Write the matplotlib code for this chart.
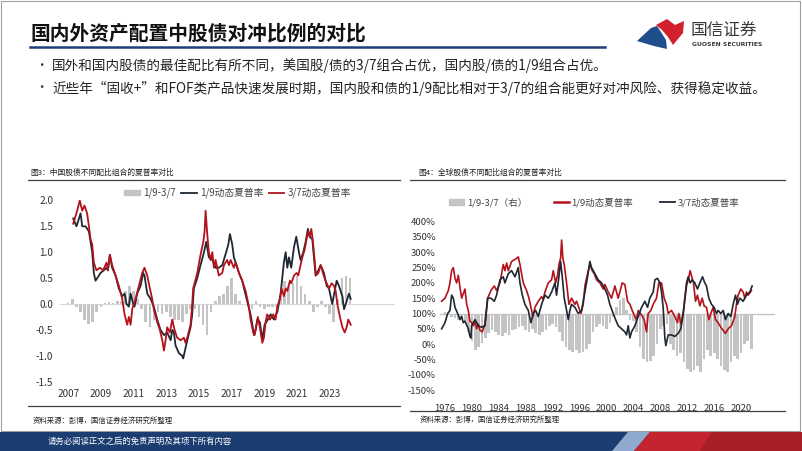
import matplotlib
matplotlib.use('Agg')
import matplotlib.pyplot as plt
import numpy as np
from matplotlib.patches import Rectangle, Polygon, Patch
from matplotlib.lines import Line2D

plt.rcParams['font.family'] = ['Noto Sans CJK SC', 'DejaVu Sans']

W, H = 802, 451

# ---------------- 图3 中国股债 ----------------
cn_x_19 = [2007.31, 2007.51, 2007.76, 2007.86, 2008.06, 2008.27, 2008.37, 2008.47, 2008.57, 2008.67,
           2008.78, 2008.98, 2009.18, 2009.35, 2009.43, 2009.55, 2009.69, 2009.90, 2010.10, 2010.31,
           2010.45, 2010.57, 2010.71, 2010.82, 2010.98, 2011.06, 2011.22, 2011.43, 2011.59, 2011.67,
           2011.84, 2012.04, 2012.24, 2012.45, 2012.65, 2012.86, 2013.06, 2013.27, 2013.37, 2013.47,
           2013.57, 2013.78, 2013.98, 2014.04, 2014.18, 2014.29, 2014.49, 2014.59, 2014.69, 2014.90,
           2015.10, 2015.31, 2015.45, 2015.61, 2015.82, 2016.02, 2016.22, 2016.43, 2016.57, 2016.67,
           2016.80, 2016.90, 2017.04, 2017.14, 2017.31, 2017.45, 2017.65, 2017.76, 2017.96, 2018.16,
           2018.27, 2018.37, 2018.47, 2018.57, 2018.73, 2018.82, 2018.88, 2019.02, 2019.22, 2019.39,
           2019.59, 2019.80, 2020.00, 2020.10, 2020.20, 2020.31, 2020.41, 2020.51, 2020.65, 2020.82,
           2020.96, 2021.12, 2021.22, 2021.39, 2021.53, 2021.67, 2021.78, 2021.94, 2022.04, 2022.14,
           2022.31, 2022.45, 2022.65, 2022.82, 2022.96, 2023.16, 2023.31, 2023.43, 2023.57, 2023.78,
           2023.88, 2024.04, 2024.18, 2024.29]
cn_y_19 = [1.65, 1.50, 1.75, 1.50, 1.50, 1.40, 1.20, 1.00, 0.60, 0.45,
           0.50, 0.60, 0.65, 0.70, 0.65, 0.95, 0.70, 0.55, 0.30, 0.15,
           0.20, 0.00, -0.05, 0.20, 0.00, -0.05, 0.20, 0.35, 0.60, 0.55,
           0.20, 0.10, -0.05, -0.30, -0.50, -0.60, -0.55, -0.70, -0.50, -0.55,
           -0.80, -0.95, -1.00, -1.05, -0.85, -0.70, -0.45, -0.20, 0.30, 0.50,
           0.75, 1.00, 1.20, 0.90, 0.85, 0.70, 0.70, 0.75, 0.90, 1.00,
           1.15, 1.35, 1.15, 0.90, 0.75, 0.60, 0.45, 0.30, 0.05, -0.20,
           -0.40, -0.60, -0.50, -0.30, -0.35, -0.55, -0.70, -0.40, -0.30, -0.20,
           -0.30, -0.15, 0.20, 0.50, 0.80, 1.00, 0.70, 0.90, 0.70, 1.10,
           1.30, 1.00, 0.85, 1.00, 1.20, 1.45, 1.30, 1.25, 0.90, 0.55,
           0.65, 0.75, 0.60, 0.35, 0.30, 0.00, 0.25, 0.45, 0.35, 0.15,
           -0.10, 0.05, 0.20, 0.10]

cn_x_37 = [2007.31, 2007.55, 2007.71, 2007.86, 2008.00, 2008.16, 2008.27, 2008.37, 2008.47, 2008.57,
           2008.73, 2008.94, 2009.14, 2009.35, 2009.43, 2009.55, 2009.69, 2009.90, 2010.10, 2010.31,
           2010.45, 2010.61, 2010.71, 2010.82, 2010.92, 2011.12, 2011.33, 2011.53, 2011.67, 2011.84,
           2012.00, 2012.14, 2012.24, 2012.45, 2012.61, 2012.76, 2012.86, 2012.96, 2013.06, 2013.22,
           2013.37, 2013.51, 2013.67, 2013.88, 2014.08, 2014.18, 2014.33, 2014.49, 2014.59, 2014.65,
           2014.90, 2015.10, 2015.27, 2015.35, 2015.41, 2015.51, 2015.61, 2015.71, 2015.82, 2015.92,
           2016.02, 2016.22, 2016.43, 2016.53, 2016.73, 2016.84, 2016.94, 2017.14, 2017.24, 2017.45,
           2017.65, 2017.86, 2018.06, 2018.16, 2018.33, 2018.41, 2018.53, 2018.61, 2018.73, 2018.88,
           2018.98, 2019.08, 2019.18, 2019.35, 2019.55, 2019.69, 2019.80, 2019.96, 2020.06, 2020.20,
           2020.31, 2020.41, 2020.57, 2020.65, 2020.82, 2020.98, 2021.08, 2021.22, 2021.33, 2021.47,
           2021.59, 2021.67, 2021.78, 2021.88, 2021.98, 2022.08, 2022.16, 2022.31, 2022.45, 2022.59,
           2022.69, 2022.82, 2022.96, 2023.12, 2023.27, 2023.37, 2023.47, 2023.63, 2023.78, 2023.92,
           2024.04, 2024.14, 2024.29]
cn_y_37 = [1.55, 1.80, 2.00, 1.80, 1.90, 1.75, 1.50, 1.25, 1.15, 0.80,
           0.65, 0.70, 0.65, 0.80, 0.65, 0.95, 0.75, 0.55, 0.35, 0.10,
           -0.20, -0.40, -0.25, -0.40, -0.10, 0.10, 0.35, 0.60, 0.70, 0.55,
           0.30, 0.10, -0.10, -0.35, -0.50, -0.70, -0.90, -0.70, -0.45, -0.55,
           -0.30, -0.50, -0.65, -0.70, -0.65, -0.75, -0.60, -0.40, 0.00, 0.30,
           0.60, 0.95, 1.20, 1.40, 1.80, 1.35, 1.00, 0.85, 1.00, 0.70,
           0.85, 0.55, 0.60, 0.75, 0.85, 0.75, 0.85, 0.70, 0.80, 0.60,
           0.45, 0.25, -0.05, -0.30, -0.55, -0.60, -0.40, -0.25, -0.45, -0.75,
           -0.65, -0.35, -0.20, -0.30, -0.20, -0.30, -0.05, 0.10, 0.30, 0.15,
           0.30, 0.25, 0.45, 0.40, 0.55, 0.60, 0.55, 0.75, 0.90, 1.05,
           1.25, 1.40, 1.30, 1.45, 1.20, 0.85, 0.55, 0.60, 0.75, 0.60,
           0.50, 0.40, 0.30, 0.40, 0.35, 0.25, 0.00, -0.25, -0.45, -0.55,
           -0.45, -0.30, -0.40]

cn_bar_x = np.arange(2007.0, 2024.3, 0.25)
cn_bar = [0.02, 0.10, -0.05, -0.15,
          -0.30, -0.38, -0.35, -0.15,
          -0.05, 0.02, 0.03, 0.02,
          0.05, 0.05, 0.25, 0.35,
          0.25, 0.10, -0.10, -0.35,
          -0.45, -0.30, -0.15, -0.20,
          -0.15, -0.25, -0.30, -0.30,
          -0.35, -0.20, -0.10, -0.10,
          -0.25, -0.40, -0.60, -0.15,
          0.05, 0.15, 0.20, 0.35,
          0.50, 0.20, 0.05, 0.00,
          -0.05, -0.10, 0.05, -0.05,
          -0.10, -0.05, -0.05, -0.05,
          0.15, 0.45, 0.35, 0.40,
          0.55, 0.35, 0.20, 0.05,
          -0.15, -0.05, 0.05, -0.05,
          -0.20, -0.35, 0.10, 0.50,
          0.55, 0.50]
cn_years = list(range(2007, 2024, 2))
cn_yticks = [-1.5, -1.0, -0.5, 0.0, 0.5, 1.0, 1.5, 2.0]

# ---------------- 图4 全球股债 ----------------
gl_x_19 = [1975.50, 1976.00, 1976.50, 1976.74, 1976.99, 1977.24, 1977.49, 1977.73, 1977.98, 1978.23,
           1978.48, 1978.72, 1978.97, 1979.22, 1979.47, 1979.71, 1979.96, 1980.21, 1980.46, 1980.70,
           1980.95, 1981.20, 1981.54, 1981.94, 1982.34, 1982.83, 1983.33, 1983.67, 1984.17, 1984.66,
           1984.91, 1985.16, 1985.41, 1985.90, 1986.64, 1986.89, 1987.14, 1987.39, 1987.63, 1988.13,
           1988.48, 1988.87, 1989.07, 1989.37, 1989.86, 1990.36, 1990.60, 1990.85, 1991.35, 1991.84,
           1992.09, 1992.44, 1992.73, 1992.93, 1993.18, 1993.33, 1993.52, 1993.72, 1994.07, 1994.42,
           1994.81, 1995.31, 1995.55, 1996.20, 1996.54, 1996.79, 1997.19, 1997.53, 1997.88, 1998.18,
           1998.52, 1999.02, 1999.51, 1999.76, 2000.26, 2000.75, 2001.25, 2001.74, 2002.34, 2002.73,
           2003.13, 2003.48, 2003.82, 2004.22, 2004.47, 2004.71, 2005.21, 2005.60, 2005.95, 2006.20,
           2006.59, 2006.94, 2007.43, 2007.78, 2008.18, 2008.57, 2008.92, 2009.17, 2009.66, 2010.16,
           2010.55, 2010.75, 2011.05, 2011.40, 2011.89, 2012.14, 2012.44, 2012.73, 2012.93, 2013.23,
           2013.52, 2013.87, 2014.22, 2014.51, 2014.86, 2015.21, 2015.50, 2015.85, 2016.20, 2016.59,
           2016.99, 2017.34, 2017.68, 2018.08, 2018.57, 2019.07, 2019.31, 2019.56, 2019.96, 2020.31,
           2020.55, 2020.80, 2021.05, 2021.54]
gl_y_19 = [140, 150, 175, 200, 240, 250, 215, 200, 225, 185,
           150, 165, 180, 130, 110, 75, 70, 60, 75, 50,
           65, 45, 40, 65, 150, 175, 190, 175, 200, 260,
           240, 265, 240, 270, 280, 285, 260, 230, 200, 175,
           150, 110, 90, 120, 140, 155, 145, 170, 200, 210,
           240, 200, 225, 260, 280, 340, 280, 260, 200, 130,
           150, 130, 140, 100, 130, 190, 230, 260, 240, 230,
           210, 200, 180, 195, 170, 150, 190, 150, 200, 195,
           140, 130, 110, 90, 80, 110, 95, 80, 40, 100,
           110, 130, 150, 200, 200, 150, 130, 100, 110, 90,
           70, 100, 65, 100, 190, 210, 240, 215, 200, 140,
           160, 125, 150, 125, 120, 80, 100, 120, 80, 70,
           55, 45, 35, 50, 60, 90, 130, 160, 180, 170,
           150, 170, 160, 175]

gl_x_37 = [1975.50, 1976.00, 1976.40, 1976.74, 1976.99, 1977.24, 1977.49, 1977.88, 1978.23, 1978.48,
           1978.72, 1978.97, 1979.47, 1979.71, 1979.85, 1979.96, 1980.46, 1980.95, 1981.44, 1981.94,
           1982.34, 1982.83, 1983.33, 1983.67, 1984.17, 1984.66, 1984.91, 1985.41, 1985.90, 1986.40,
           1986.89, 1987.14, 1987.49, 1987.88, 1988.38, 1988.77, 1989.12, 1989.47, 1989.86, 1990.36,
           1990.85, 1991.35, 1991.84, 1992.34, 1992.58, 1992.93, 1993.18, 1993.43, 1993.72, 1994.07,
           1994.32, 1994.56, 1994.81, 1995.31, 1995.80, 1996.30, 1996.79, 1997.19, 1997.53, 1997.78,
           1998.28, 1998.77, 1999.27, 1999.76, 2000.16, 2000.50, 2001.00, 2001.35, 2001.74, 2002.24,
           2002.73, 2002.98, 2003.23, 2003.48, 2003.72, 2004.22, 2004.71, 2005.21, 2005.70, 2006.10,
           2006.44, 2006.94, 2007.19, 2007.58, 2007.93, 2008.18, 2008.42, 2008.67, 2008.82, 2009.17,
           2009.66, 2010.16, 2010.65, 2011.05, 2011.40, 2011.64, 2011.89, 2012.14, 2012.44, 2012.73,
           2013.13, 2013.52, 2013.87, 2014.27, 2014.61, 2014.86, 2015.21, 2015.60, 2016.00, 2016.35,
           2016.59, 2016.99, 2017.34, 2017.68, 2018.08, 2018.48, 2018.82, 2019.17, 2019.46, 2019.81,
           2020.31, 2020.80, 2021.30, 2021.64]
gl_y_37 = [50, 70, 100, 110, 160, 150, 120, 100, 80, 90,
           70, 75, 50, 25, 20, 60, 80, 60, 55, 60,
           150, 150, 140, 160, 210, 220, 200, 230, 240, 220,
           250, 200, 160, 130, 110, 70, 100, 110, 90, 130,
           160, 150, 170, 200, 160, 220, 270, 220, 150, 110,
           80, 110, 130, 120, 100, 110, 170, 220, 270, 250,
           230, 210, 200, 180, 160, 130, 100, 80, 60, 50,
           40, 30, 60, 20, 40, 60, 90, 120, 140, 120,
           150, 170, 210, 215, 200, 170, 120, 20, -5, 30,
           30, 25, 35, 50, 100, 150, 200, 220, 200, 210,
           200, 180, 200, 220, 200, 190, 150, 130, 120, 100,
           110, 100, 110, 80, 100, 90, 130, 160, 130, 150,
           140, 160, 170, 190]

gl_bar_x = np.arange(1975.5, 2021.6, 0.5)
gl_bar = [-5,
          5, -5, -10, -15, -20, -15, -25, -60, -90, -120,
          -110, -95, -80, -65, -55, -60, -70, -75, -65, -70,
          -55, -50, -45, -40, -55, -60, -50, -65, -70, -60,
          -55, -40, -35, -45, -60, -90, -110, -120, -125, -120,
          -130, -125, -115, -100, -60, -45, -35, -40, -50, -30,
          -10, 20, 45, 50, 10, -20, -25, -60, -110, -150,
          -160, -155, -140, -100, -50, -40, -35, -100, -120, -140,
          -130, -160, -180, -190, -185, -170, -190, -150, -120, -140,
          -130, -150, -170, -185, -190, -160, -140, -150, -130, -100,
          -90, -115]
gl_years = list(range(1976, 2021, 4))
gl_yticks = list(range(-150, 401, 50))

RED = '#B4121B'
DARK = '#1E2732'
GREY = '#C4C4C4'


def fx(x):
    return x / W


def fy(y):
    return 1 - y / H


fig = plt.figure(figsize=(W / 100, H / 100), dpi=100)
fig.patch.set_facecolor('white')

# slide frame
fig.add_artist(Rectangle((fx(1), fy(431)), fx(799), 430 / H, fill=False,
                         edgecolor='#A0A0A0', lw=0.8))

# title
fig.text(fx(30), fy(34), '国内外资产配置中股债对冲比例的对比', fontsize=14.2, fontweight='bold',
         color='#111111', va='center', ha='left')
fig.add_artist(Line2D([fx(30), fx(605)], [fy(46.5), fy(46.5)], color='#1F3F7A', lw=1.8))

# logo
fig.add_artist(Polygon([(fx(656), fy(25)), (fx(667), fy(19)), (fx(675), fy(25)), (fx(684), fy(21)),
                        (fx(683), fy(33)), (fx(673), fy(45)), (fx(668), fy(37)), (fx(662), fy(30))],
                       closed=True, facecolor='#D1202E', edgecolor='none'))
fig.add_artist(Polygon([(fx(637), fy(41)), (fx(651), fy(28)), (fx(657), fy(26)), (fx(661), fy(32)),
                        (fx(666), fy(40)), (fx(667), fy(49)), (fx(654), fy(46))],
                       closed=True, facecolor='#1F4E8C', edgecolor='none'))
fig.text(fx(691), fy(30), '国信证券', fontsize=12, color='#3A3A3A', va='center', ha='left')
fig.text(fx(692), fy(44.5), 'GUOSEN SECURITIES', fontsize=4.4, fontweight='bold', color='#3A3A3A',
         va='center', ha='left', family='DejaVu Sans')

# bullets
bullets = ['国外和国内股债的最佳配比有所不同，美国股/债的3/7组合占优，国内股/债的1/9组合占优。',
           '近些年“固收+”和FOF类产品快速发展时期，国内股和债的1/9配比相对于3/7的组合能更好对冲风险、获得稳定收益。']
for yy, txt in zip([66, 88], bullets):
    fig.text(fx(35), fy(yy), '•', fontsize=9, color='#333333', va='center', ha='left')
    fig.text(fx(52), fy(yy), txt, fontsize=9.8, color='#222222', va='center', ha='left')

# chart captions and rules
fig.text(fx(30), fy(173), '图3：中国股债不同配比组合的夏普率对比', fontsize=5.6, color='#222222',
         va='center', ha='left')
fig.text(fx(418), fy(173), '图4：全球股债不同配比组合的夏普率对比', fontsize=5.6, color='#222222',
         va='center', ha='left')
for x0, x1, yy in [(28, 400, 180), (410, 785, 180), (28, 400, 406), (410, 785, 411)]:
    fig.add_artist(Line2D([fx(x0), fx(x1)], [fy(yy), fy(yy)], color='#404040', lw=0.9))
fig.text(fx(33), fy(421), '资料来源：彭博，国信证券经济研究所整理', fontsize=5.3, color='#222222',
         va='center', ha='left')
fig.text(fx(420), fy(420), '资料来源：彭博，国信证券经济研究所整理', fontsize=5.3, color='#222222',
         va='center', ha='left')

# footer
fig.add_artist(Rectangle((0, 0), 1, 19 / H, facecolor='#1B3D72', edgecolor='none'))
fig.add_artist(Polygon([(fx(612), 0), (fx(628), fy(432)), (fx(650), fy(432)), (fx(634), 0)],
                       closed=True, facecolor='#8FA9CF', edgecolor='none'))
fig.add_artist(Polygon([(fx(634), 0), (fx(650), fy(432)), (fx(802), fy(432)), (fx(802), 0)],
                       closed=True, facecolor='#C3252F', edgecolor='none'))
fig.add_artist(Polygon([(fx(700), 0), (fx(712), fy(432)), (fx(802), fy(432)), (fx(802), 0)],
                       closed=True, facecolor='#A81E27', edgecolor='none'))
fig.text(fx(48), fy(441.5), '请务必阅读正文之后的免责声明及其项下所有内容', fontsize=6, color='white',
         va='center', ha='left')

# ---- left chart ----
ax1 = fig.add_axes([fx(60), fy(381.7), 335 / W, 181.3 / H])
ax1.bar(cn_bar_x, cn_bar, width=0.16, color=GREY, linewidth=0)
ax1.axhline(0, color='#D0D0D0', lw=0.6, zorder=1)
ax1.plot(cn_x_19, cn_y_19, color=DARK, lw=1.3, label='1/9动态夏普率')
ax1.plot(cn_x_37, cn_y_37, color=RED, lw=1.3, label='3/7动态夏普率')
ax1.set_xlim(2006.5, 2027.0)
ax1.set_ylim(-1.5, 2.0)
ax1.set_yticks(cn_yticks)
ax1.set_yticklabels(['%.1f' % v for v in cn_yticks])
ax1.set_xticks(cn_years)
ax1.set_xticklabels([str(y) for y in cn_years])
ax1.tick_params(length=0, labelsize=7.2, labelcolor='#333333')
ax1.tick_params(axis='y', pad=5)
ax1.tick_params(axis='x', pad=5)
for s in ax1.spines.values():
    s.set_visible(False)
ax1.patch.set_alpha(0)
h1 = [Patch(color=GREY), Line2D([], [], color=DARK, lw=1.3), Line2D([], [], color=RED, lw=1.3)]
ax1.legend(h1, ['1/9-3/7', '1/9动态夏普率', '3/7动态夏普率'], loc='center', ncol=3,
           bbox_to_anchor=(0.53, 1.04), frameon=False, fontsize=7, handlelength=1.6,
           handleheight=0.5, columnspacing=0.6, handletextpad=0.3, labelcolor='#444444')

# ---- right chart ----
ax2 = fig.add_axes([fx(440), fy(390), 335 / W, 168.3 / H])
ax2b = ax2.twinx()
ax2b.set_zorder(0)
ax2.set_zorder(1)
ax2.patch.set_alpha(0)
ax2b.bar(gl_bar_x, gl_bar, width=0.4, color=GREY, linewidth=0)
ax2b.axhline(0, color=GREY, lw=1.0)
ax2b.set_ylim(-250, 300)
ax2b.set_yticks([])
ax2.plot(gl_x_19, gl_y_19, color=RED, lw=1.2)
ax2.plot(gl_x_37, gl_y_37, color=DARK, lw=1.2)
ax2.set_xlim(1975.26, 2025.04)
ax2b.set_xlim(1975.26, 2025.04)
ax2.set_ylim(-150, 400)
ax2.set_yticks(gl_yticks)
ax2.set_yticklabels(['%d%%' % v for v in gl_yticks])
ax2.set_xticks(gl_years)
ax2.set_xticklabels([str(y) for y in gl_years])
ax2.tick_params(length=0, labelsize=6.8, labelcolor='#333333')
ax2.tick_params(axis='y', pad=3)
ax2.tick_params(axis='x', pad=10)
for a in (ax2, ax2b):
    for s in a.spines.values():
        s.set_visible(False)
h2 = [Patch(color=GREY), Line2D([], [], color=RED, lw=1.8), Line2D([], [], color=DARK, lw=1.3)]
ax2.legend(h2, ['1/9-3/7（右）', '1/9动态夏普率', '3/7动态夏普率'], loc='center', ncol=3,
           bbox_to_anchor=(0.46, 1.113), frameon=False, fontsize=6.8, handlelength=1.6,
           handleheight=0.5, columnspacing=2.8, handletextpad=0.3, labelcolor='#444444')

fig.savefig('out.png', dpi=100)
